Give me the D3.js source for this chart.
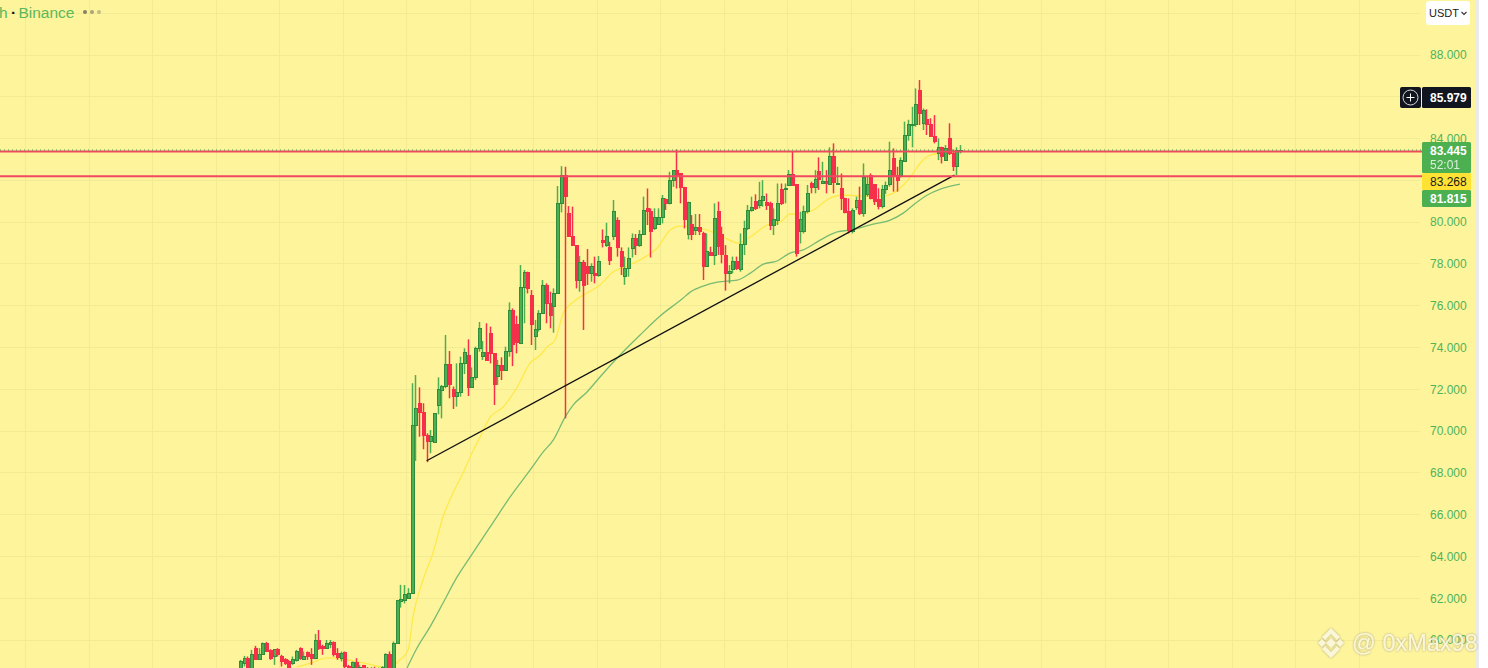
<!DOCTYPE html>
<html><head><meta charset="utf-8">
<script src="https://cdn.jsdelivr.net/npm/d3@7"></script>
<style>html,body{margin:0;padding:0;background:#fff;overflow:hidden}svg{display:block}text{font-family:"Liberation Sans",Arial,sans-serif}</style>
</head><body><div id="chart"></div>
<script>
// candle values, each row: open, high, low, close
const candlesEarly = [
[58.57,59.05,58.49,58.97],[58.89,59.24,58.73,59.13],[59.13,59.21,58.57,58.65],[58.57,59.53,58.49,59.29],[59.57,59.72,59.05,59.05],
[59.05,59.61,59.05,59.32],[59.32,59.88,59.29,59.82],[59.82,59.91,59.45,59.45],[59.48,59.56,59.05,59.13],[59.21,59.53,58.81,59.53],
[59.53,59.61,59.21,59.29],[59.21,59.29,58.73,58.97],[59.05,59.13,58.81,58.89],[58.97,59.05,58.41,58.65],[58.89,59.21,58.81,59.05],
[59.02,59.53,58.97,59.45],[59.57,59.65,59.05,59.13],[59.08,59.45,59.08,59.21],[59.40,59.45,59.05,59.21],[59.29,59.61,58.81,59.13],
[59.13,60.29,59.08,59.96],[59.96,60.48,59.53,59.61],[59.69,59.77,59.29,59.61],[59.61,60.00,59.61,59.82],[59.77,60.00,59.61,59.88],
[59.88,59.93,59.21,59.29],[59.37,59.61,59.05,59.18],[59.13,59.45,58.97,59.37],[59.40,59.45,58.57,58.73],[58.73,58.81,58.41,58.57],
[58.66,58.97,58.57,58.92],[58.92,59.13,58.41,58.57],[58.41,58.81,58.33,58.66],[58.76,58.81,58.41,58.57],[58.65,58.70,58.30,58.41],
[58.30,58.70,58.20,58.60],[58.60,58.72,58.20,58.30],[58.30,58.68,58.20,58.60],[58.41,58.75,58.30,58.70],[58.57,59.37,58.41,59.29],
[59.29,59.45,58.30,58.41],[58.41,59.93,58.25,59.85],[59.85,61.92,59.85,61.89],[61.84,62.64,61.55,61.95],[61.88,62.63,61.75,62.19],
[62.00,62.48,62.00,62.24],[62.24,72.29,62.20,70.29]];
const candlesRise = [
[70.29,72.68,68.57,71.09],[71.33,72.09,69.73,70.90],[70.90,71.33,69.13,69.78],[69.78,69.89,68.51,69.49],[69.49,70.05,68.94,69.73],
[69.46,70.85,69.46,70.85],[71.22,72.57,70.80,71.97],[71.93,72.21,70.61,72.13],[72.13,74.60,72.05,73.19],[73.19,73.83,71.57,72.21],
[72.00,72.13,71.06,71.65],[71.65,73.24,71.17,71.85],[71.85,73.56,71.65,73.24],[73.24,73.96,72.73,73.77],[73.64,74.39,71.68,72.09],
[72.09,73.05,72.09,72.57],[72.57,74.04,72.44,73.93],[73.93,75.22,73.80,74.92],[73.56,74.31,73.40,73.77],[73.77,75.16,73.37,73.40],
[74.65,75.00,73.24,73.72],[73.72,73.72,71.25,72.25],[72.60,73.40,72.21,73.16],[73.16,73.53,72.44,72.89],[72.92,74.04,72.92,73.80],
[73.80,76.16,73.56,75.79],[75.79,75.87,73.11,74.12],[75.08,75.52,73.72,74.25],[74.20,77.95,74.20,76.88],[76.88,77.71,75.16,77.60],
[77.60,77.63,76.59,76.83],[76.51,76.75,74.12,75.08],[74.52,75.32,73.88,74.88],[74.84,75.79,74.76,75.63],[75.63,77.23,75.63,76.99],
[76.99,77.07,75.16,76.11],[76.11,76.67,74.92,75.55],[75.95,76.83,74.71,76.59],[76.59,81.73,76.59,80.90],[80.90,82.68,80.47,82.21],
[82.21,82.65,70.61,81.22],[80.39,80.77,79.30,79.30],[79.30,80.74,78.87,78.87],[78.87,78.87,76.83,77.20],[77.20,78.38,76.67,78.07],
[78.07,78.19,74.84,76.96],[77.90,78.71,76.99,77.52],[77.52,78.03,77.15,77.90],[77.52,78.35,77.07,77.47],[77.44,78.38,77.39,78.11]];
const candlesRange = [
[79.14,79.65,78.79,79.02],[78.86,79.97,78.82,79.30],[78.79,79.06,77.95,78.15],[79.30,81.06,79.14,80.53],
[80.10,80.23,78.35,78.79],[78.59,78.79,77.47,77.90],[77.39,78.35,77.00,77.79],[77.79,78.79,77.39,78.27],[78.74,79.46,78.31,79.22],
[79.22,79.43,78.43,78.86],[78.90,79.62,78.82,79.41],[79.41,81.22,79.38,80.58],[80.66,81.61,79.86,80.50],[80.53,80.66,78.31,79.54],
[79.70,80.66,79.62,80.21],[79.91,80.66,79.91,80.23],[80.23,81.30,79.94,81.14],[81.06,81.14,80.58,80.90],[80.90,82.41,80.85,82.01],
[82.01,82.49,81.69,82.49],[82.49,83.48,81.61,82.25],[82.33,82.33,80.90,81.66],[81.66,81.69,79.70,80.13],[79.43,80.98,79.17,80.95],
[79.91,80.34,79.14,79.43],[79.59,80.39,79.38,79.75],[79.75,80.39,79.38,79.54],[79.46,79.54,77.23,77.90],[77.87,79.46,77.87,78.59],
[78.55,78.82,78.39,78.39],[78.39,80.90,77.95,80.18],[80.50,80.98,78.43,78.82],[79.43,79.78,78.03,78.47],[78.38,78.90,76.72,77.55],
[77.52,77.95,77.07,77.66],[77.71,78.35,77.55,78.14],[78.14,78.35,77.71,77.79],[77.71,79.46,77.63,78.94],[78.94,80.07,78.43,79.70],
[79.70,80.82,79.62,80.55],[80.55,81.22,80.50,80.71],[81.01,81.33,80.58,80.63],[80.79,81.93,80.66,81.03],[81.03,82.01,80.74,81.25],
[80.95,81.37,80.58,80.82],[80.87,80.98,79.62,79.86],[79.86,80.66,79.38,80.13],[80.10,81.85,79.86,80.87],[81.57,81.85,80.82,80.90],
[81.54,81.85,80.90,81.61]];
const candlesLate = [
[81.74,82.49,81.74,82.30],[82.30,83.37,81.74,81.74],
[81.78,81.78,78.35,78.51],[79.54,80.50,78.98,80.15],[79.54,80.79,79.46,80.53],[80.50,81.78,80.42,81.38],[81.83,81.94,81.38,81.66],
[81.66,82.49,81.38,82.06],[82.41,83.10,81.54,82.04],[81.85,82.89,81.85,81.94],[81.94,82.49,81.38,81.85],[81.78,83.58,81.78,83.16],[83.16,83.77,81.38,81.89],
[81.78,82.65,81.78,81.85],[81.62,82.33,80.58,81.11],[81.14,81.17,80.42,80.45],[80.50,81.14,79.46,79.62],[79.54,80.66,79.46,80.58],[80.71,81.22,80.58,81.03],
[81.03,81.70,80.34,80.39],[80.39,82.81,80.26,82.13],[81.33,82.18,81.22,81.78],[82.25,82.33,81.09,81.14],[81.78,81.78,80.82,80.98],
[81.06,81.62,80.61,80.74],[80.74,81.78,80.66,81.58],[81.54,81.94,81.35,81.73],[81.78,83.85,81.70,82.49],[83.05,83.53,81.46,82.25],
[82.25,82.65,81.46,81.98],[82.21,83.10,82.14,82.94],[82.89,84.81,82.89,84.17],[84.17,84.90,83.90,84.65],[84.65,85.52,83.58,84.69],[84.69,86.40,84.57,85.65],
[86.32,86.80,84.65,85.20],[84.73,85.44,84.41,85.36],[84.92,85.40,84.17,84.69],[84.65,84.97,84.09,84.09],[84.12,85.12,83.77,83.85],
[83.29,84.01,82.97,83.58],[83.58,83.61,82.81,83.16],[82.94,83.69,82.94,83.53],[84.01,84.73,83.21,83.29],[83.29,83.48,82.45,82.65],
[82.65,83.58,82.25,83.45],[83.42,83.69,83.29,83.45]];
const candles = [...candlesEarly, ...candlesRise, ...candlesRange, ...candlesLate];

// moving averages and trend line: horizontal position on a 0-194 session axis, value
const yellowMA = [[15.3,58.71],[19.3,58.91],[23.4,59.14],[27.8,59.09],[33.2,58.90],[40.4,58.66],[42.6,58.97],[45.3,59.52],[46.6,61.10],[49.3,62.87],[52,64.17],[54.7,65.89],[57.4,67.04],[60.1,67.99],[62.5,68.95],[64.7,69.72],[67.4,70.67],[70.9,71.15],[74.7,72.11],[78.2,73.26],[80.9,73.64],[82.7,74.02],[84.9,74.36],[87.1,75.65],[89.8,76.18],[93.5,76.61],[97,76.99],[100.5,77.61],[104.3,77.90],[108.6,78.28],[112.4,78.76],[115.9,79.62],[118.6,79.81],[125.9,79.62],[130.2,79.29],[134.2,79.00],[137.5,79.29],[142,79.86],[145.6,80.00],[148.2,80.39],[150.9,80.39],[154.4,80.58],[159,81.15],[162.5,81.30],[167.9,81.25],[173.3,81.25],[178.7,81.77],[181.4,82.35],[183.3,82.83],[186,83.21],[189.5,83.31],[194,83.27]];
const greenMA = [[45,58.66],[47.7,59.62],[51.2,60.63],[54.7,61.77],[58.5,63.02],[62,63.97],[67.4,65.41],[72.8,66.85],[78.2,68.14],[81.7,69.00],[84.4,69.57],[87.6,70.67],[89.8,71.25],[93.5,71.87],[97,72.59],[102.4,73.64],[107.8,74.60],[113.2,75.51],[119.1,76.32],[121.3,76.65],[124.8,76.94],[128.6,77.13],[134,77.23],[137.5,77.56],[141,77.99],[144.7,78.14],[148.2,78.52],[151.8,78.67],[156.3,79.14],[160.9,79.53],[164.4,79.62],[170.6,79.91],[175.2,80.10],[178.7,80.43],[181.4,80.82],[185.2,81.30],[188.7,81.58],[194,81.82]];
const trendLine = [[50.3,68.58],[192.5,82.25]];
const hLevelDotted = 83.38, hLevelSolid = 82.2;

const priceTicks = [88,86,84,82,80,78,76,74,72,70,68,66,64,62,60];
const gridPrices = [90,...priceTicks];
const gridCols = d3.range(0,22);
const W=1488,H=668;
const colors={bg:'#fef49c',grid:'#f3ea94',up:'#4caf50',upDark:'#2f8c3c',down:'#f6304a',hline:'#f0485f',yellow:'#ffe94a',ma:'#78bb72',axis:'#4fb35a'};

const svg=d3.select('#chart').append('svg').attr('width',W).attr('height',H);
svg.append('rect').attr('width',1475).attr('height',H).attr('fill',colors.bg);
svg.append('rect').attr('x',1475).attr('width',4).attr('height',H).attr('fill','#ebebeb');

const x=d3.scaleLinear().domain([0,candles.length-1]).range([240,960]);
const xSession=d3.scaleLinear().domain([0,194]).range([240,960]);
const y=d3.scaleLinear().domain([60,88]).range([640,55]);
const xCol=d3.scaleLinear().domain([0,21]).range([25.5,1359]);

const grid=svg.append('g').attr('shape-rendering','crispEdges').attr('stroke',colors.grid).attr('stroke-width',1);
grid.selectAll('.h').data(gridPrices).join('line').attr('x1',0).attr('x2',1420).attr('y1',d=>y(d)).attr('y2',d=>y(d));
grid.selectAll('.v').data(gridCols).join('line').attr('y1',0).attr('y2',H).attr('x1',d=>xCol(d)).attr('x2',d=>xCol(d));

const axis=d3.axisRight(y).tickValues(priceTicks).tickFormat(d3.format('.3f')).tickSize(0).tickPadding(0);
const ag=svg.append('g').attr('transform','translate(1430,0)').call(axis);
ag.select('.domain').remove();
ag.selectAll('text').attr('fill',colors.axis).attr('font-size',12).attr('font-family','"Liberation Sans",Arial,sans-serif').attr('x',0);

const line=d3.line().x(d=>xSession(d[0])).y(d=>y(d[1])).curve(d3.curveMonotoneX);
svg.append('path').attr('d',line(yellowMA)).attr('fill','none').attr('stroke',colors.yellow).attr('stroke-width',1.3);
svg.append('path').attr('d',line(greenMA)).attr('fill','none').attr('stroke',colors.ma).attr('stroke-width',1.3);

const cg=svg.append('g');
const up=d=>d[3]>=d[0];
const cs=cg.selectAll('g').data(candles).join('g');
cs.append('line').attr('x1',(d,i)=>Math.round(x(i))+.5).attr('x2',(d,i)=>Math.round(x(i))+.5)
  .attr('y1',d=>y(d[1])).attr('y2',d=>y(d[2])).attr('stroke',d=>up(d)?colors.up:colors.down).attr('stroke-width',1.5);
cs.append('rect').attr('shape-rendering','crispEdges').attr('x',(d,i)=>Math.round(x(i))-1).attr('width',3)
  .attr('y',d=>y(Math.max(d[0],d[3]))).attr('height',d=>Math.max(1,Math.abs(y(d[0])-y(d[3]))))
  .attr('fill',d=>up(d)?colors.up:colors.down)
  .attr('stroke',d=>up(d)?colors.upDark:colors.down).attr('stroke-width',1);

svg.append('path').attr('d',d3.line().x(d=>xSession(d[0])).y(d=>y(d[1]))(trendLine)).attr('fill','none').attr('stroke','#111').attr('stroke-width',1.3);

[hLevelDotted,hLevelSolid].forEach(v=>{
  svg.append('line').attr('x1',0).attr('x2',1422).attr('y1',y(v)).attr('y2',y(v)).attr('stroke',colors.hline).attr('stroke-width',2);
});
svg.append('line').attr('x1',0).attr('x2',1422).attr('y1',y(hLevelDotted)-1.5).attr('y2',y(hLevelDotted)-1.5)
  .attr('stroke','#3f9c4a').attr('stroke-width',1).attr('stroke-dasharray','1 3');

// price tags
function tag(yy,h,fill){svg.append('rect').attr('x',1422).attr('y',yy).attr('width',49).attr('height',h).attr('rx',1.5).attr('fill',fill);}
function label(t,yy,fill,w,op){svg.append('text').attr('x',1430).attr('y',yy).attr('fill',fill).attr('font-size',12).attr('font-weight',w||400).attr('opacity',op||1).text(t);}
tag(87,21,'#11151f');
svg.append('rect').attr('x',1400).attr('y',87).attr('width',21).attr('height',21).attr('rx',2).attr('fill','#11151f');
svg.append('circle').attr('cx',1410.5).attr('cy',97.5).attr('r',7.5).attr('fill','none').attr('stroke','#d8d8d8').attr('stroke-width',1);
svg.append('path').attr('d','M1406.5 97.5H1414.5M1410.5 93.5V101.5').attr('stroke','#fff').attr('stroke-width',1);
label('85.979',102,'#fff',700);
tag(142,31,'#4caf50'); label('83.445',155,'#fff',700); label('52:01',169,'#fff',400,.8);
tag(173,17,'#ffe233'); label('83.268',186,'#1a1a1a');
tag(190,17,'#4caf50'); label('81.815',203,'#fff',700);

// USDT button
svg.append('rect').attr('x',1426).attr('y',1).attr('width',44).attr('height',24).attr('rx',3).attr('fill','#fff');
svg.append('text').attr('x',1429).attr('y',17).attr('font-size',11).attr('fill','#1a1a1a').text('USDT');
svg.append('path').attr('d','M1461.5 12l2.5 2.5 2.5-2.5').attr('fill','none').attr('stroke','#333').attr('stroke-width',1.1);

// title
const title=svg.append('text').attr('x',-1).attr('y',18).attr('font-size',15.5).attr('fill','#5cb85c');
title.append('tspan').text('h ');
title.append('tspan').attr('fill','#111').attr('font-weight',700).attr('dx',-1).text('· ');
title.append('tspan').attr('dx',-2).text('Binance');
[[85,.65],[92,.45],[99,.3]].forEach(([cx,o])=>svg.append('circle').attr('cx',cx).attr('cy',12).attr('r',2).attr('fill','#444').attr('opacity',o));

// watermark
const defs=svg.append('defs');
defs.append('filter').attr('id','ws').append('feDropShadow').attr('dx',0).attr('dy',0).attr('stdDeviation',1.1).attr('flood-color','#777').attr('flood-opacity',.75);
const wm=svg.append('g').attr('filter','url(#ws)').attr('fill','#fbf7dc').attr('opacity',.9);
wm.append('path').attr('transform','translate(1331,643)').attr('d','M0-5 5 0 0 5-5 0ZM-9-4-5 0-9 4-13 0ZM9-4 13 0 9 4 5 0ZM0-15 9-6 6-3 0-9-6-3-9-6ZM0 15 9 6 6 3 0 9-6 3-9 6Z');
wm.append('text').attr('x',1352).attr('y',651).attr('font-size',23.5).text('@ 0xMax98');
</script></body></html>
